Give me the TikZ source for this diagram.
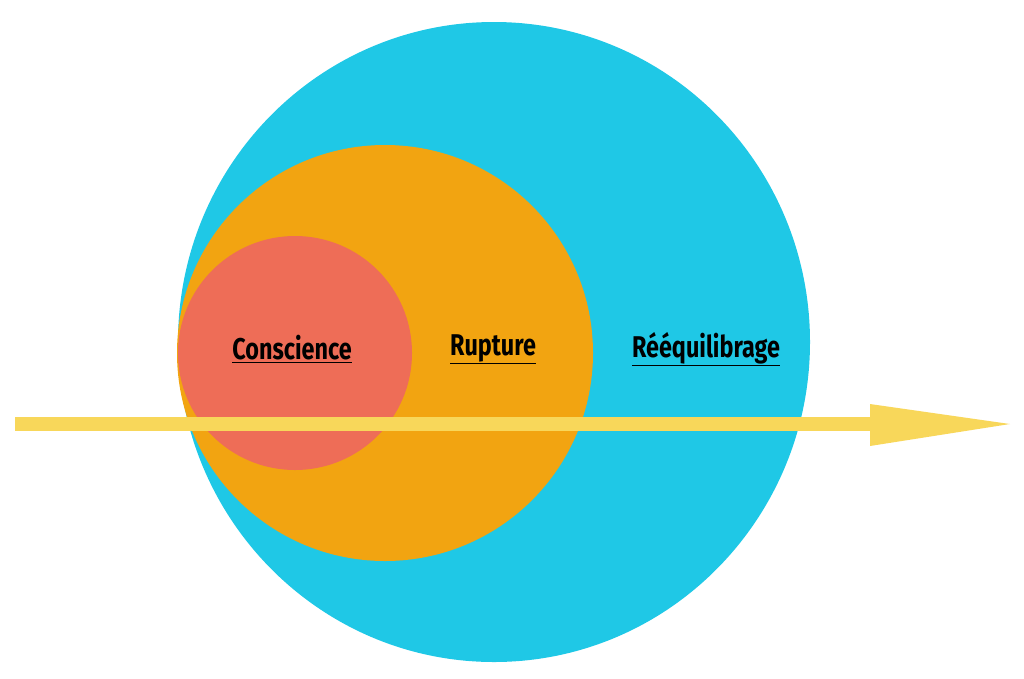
\documentclass[tikz,border=0pt]{standalone}
\usepackage{fontspec}
\setmainfont{Fira Sans}[FakeStretch=0.78]
\begin{document}
\definecolor{cblue}{HTML}{1FC8E6}
\definecolor{corange}{HTML}{F2A411}
\definecolor{cred}{HTML}{EE6D57}
\definecolor{cyellow}{HTML}{F8D75A}
\begin{tikzpicture}[x=1pt,y=-1pt,
  lbl/.style={font=\fontsize{30}{34}\selectfont\bfseries, text=black, inner sep=0pt}]
\useasboundingbox (0,0) rectangle (1024,678);
\fill[cblue] (494,342) ellipse [x radius=316, y radius=320];
\fill[corange] (385,353) circle [radius=208];
\fill[cred] (295,353) circle [radius=117];
\node[lbl] (c) at (292,349) {\underline{Conscience}};
\node[lbl] (r) at (493,349) {\underline{Rupture}};
\node[lbl] (q) at (706,349) {\underline{Rééquilibrage}};
\coordinate (s) at (15,424);
\coordinate (e) at (870,424);
\coordinate (t) at (1010,424);
\fill[cyellow] (15,417) rectangle (871,431);
\fill[cyellow] (870,404) -- (1010,424) -- (870,446) -- cycle;
\end{tikzpicture}
\end{document}
